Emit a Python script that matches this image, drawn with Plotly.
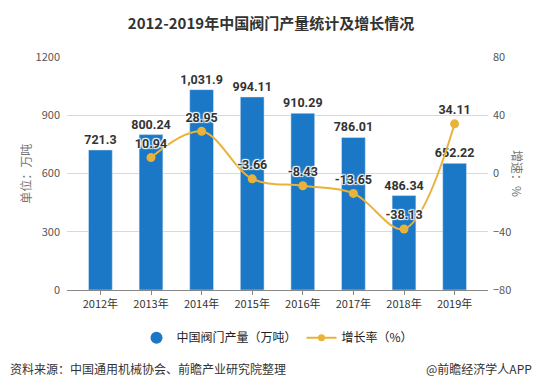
import plotly.graph_objects as go

years = ["2012年", "2013年", "2014年", "2015年", "2016年", "2017年", "2018年", "2019年"]
output = [721.3, 800.24, 1031.9, 994.11, 910.29, 786.01, 486.34, 652.22]
growth_years = ["2013年", "2014年", "2015年", "2016年", "2017年", "2018年", "2019年"]
growth = [10.94, 28.95, -3.66, -8.43, -13.65, -38.13, 34.11]

BAR = "#1A78C6"
GOLD = "#E9B23B"
FONT = "Noto Sans CJK SC"

fig = go.Figure()
fig.add_trace(go.Bar(
    x=years, y=output, marker_color=BAR, showlegend=False,
    text=[f"{v:,}" for v in output], textposition="outside", cliponaxis=False,
    constraintext="none",
    textfont=dict(size=12.5, color="#333333", family="Roboto", weight="bold"),
    hoverinfo="skip",
))
fig.add_trace(go.Scatter(
    x=growth_years, y=growth, yaxis="y2", mode="lines+markers+text",
    line=dict(color=GOLD, width=2, shape="spline", smoothing=1),
    marker=dict(color=GOLD, size=9), showlegend=False,
    text=[f"{v}" for v in growth], textposition="top center", cliponaxis=False,
    textfont=dict(size=12.5, color="#333333", family="Roboto", weight="bold",
                  shadow="1px 1px 1px #fff, -1px -1px 1px #fff, 1px -1px 1px #fff, -1px 1px 1px #fff"),
))
# legend entries
fig.add_trace(go.Scatter(x=[None], y=[None], mode="markers", name="中国阀门产量（万吨）",
                         marker=dict(color=BAR, size=12, symbol="circle")))
fig.add_trace(go.Scatter(x=[None], y=[None], mode="lines+markers", name="增长率（%）",
                         line=dict(color=GOLD, width=2), marker=dict(color=GOLD, size=7)))

fig.update_layout(
    width=542, height=391,
    margin=dict(l=67, r=54, t=57, b=101),
    paper_bgcolor="white", plot_bgcolor="white",
    font=dict(family=FONT, color="#555555", size=11),
    bargap=0.53,
    title=dict(text="<b>2012-2019年中国阀门产量统计及增长情况</b>", x=0.5, xanchor="center",
               y=0.94, yanchor="middle", font=dict(size=15, color="#333333", family=FONT)),
    xaxis=dict(range=[-0.66, 7.66], showgrid=False, showline=True, linecolor="#888888",
               ticks="outside", ticklen=4, tickcolor="#888888",
               tickfont=dict(size=11, color="#333333", family=FONT)),
    yaxis=dict(range=[0, 1200], tickvals=[0, 300, 600, 900, 1200], showgrid=True,
               gridcolor="#d9d9d9", zeroline=False, ticks="", tickfont=dict(size=11, color="#555555"),
               ticklabelstandoff=6),
    yaxis2=dict(range=[-80, 80], tickvals=[-80, -40, 0, 40, 80], overlaying="y", side="right",
                showgrid=False, zeroline=False, tickfont=dict(size=11, color="#555555"),
                ticklabelstandoff=4),
    legend=dict(orientation="h", x=0.5, xanchor="center", y=-0.205, yanchor="middle",
                font=dict(size=12, color="#222222", family=FONT), itemwidth=30),
)
fig.add_annotation(text="单位：万吨", textangle=-90, xref="paper", yref="paper",
                   x=-0.124, y=0.5, showarrow=False, font=dict(size=12, color="#777777"))
fig.add_annotation(text="增速：%", textangle=90, xref="paper", yref="paper",
                   x=1.095, y=0.5, showarrow=False, font=dict(size=12, color="#777777"))
fig.add_annotation(text="资料来源：中国通用机械协会、前瞻产业研究院整理", xref="paper", yref="paper",
                   x=-0.14, xanchor="left", y=-0.335, yanchor="middle", showarrow=False,
                   font=dict(size=12, color="#333333"))
fig.add_annotation(text="@前瞻经济学人APP", xref="paper", yref="paper",
                   x=1.11, xanchor="right", y=-0.335, yanchor="middle", showarrow=False,
                   font=dict(size=12, color="#333333"))

fig.write_html("out.html", config={"displayModeBar": False},
               post_script="document.body.style.margin='0';document.body.style.overflow='hidden';")
